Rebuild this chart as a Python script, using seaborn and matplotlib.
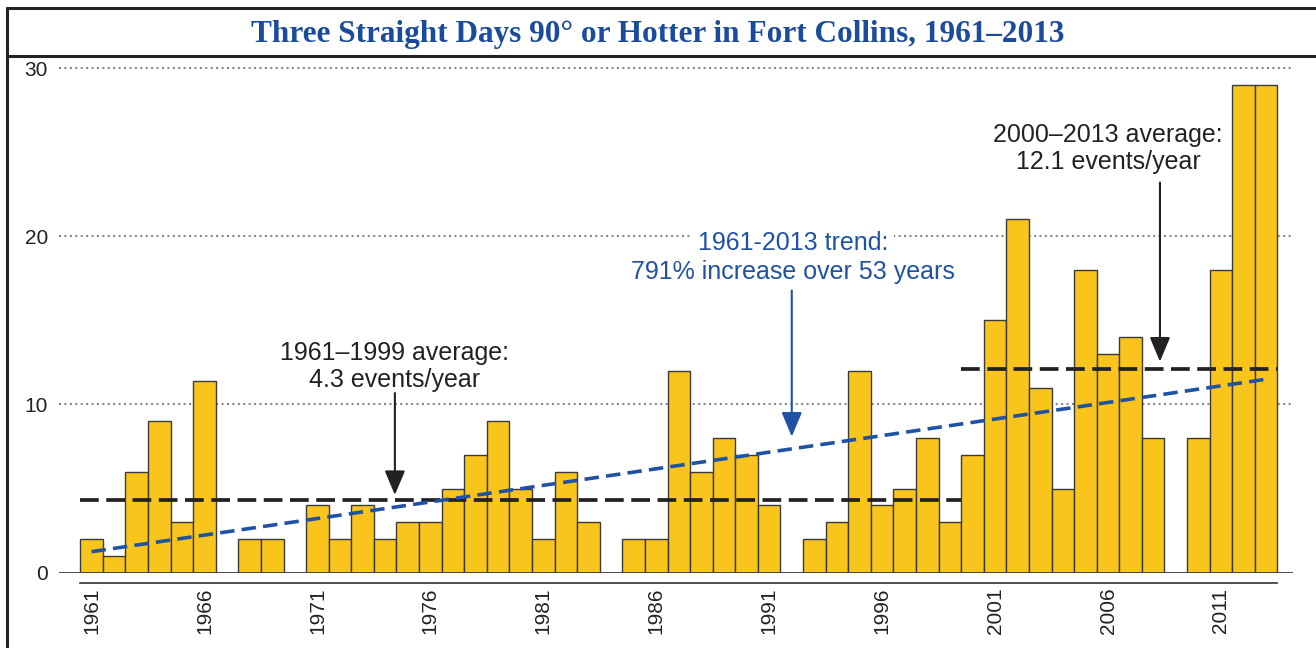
import matplotlib
matplotlib.use("Agg")
import numpy as np
import pandas as pd
import matplotlib.pyplot as plt
import seaborn as sns
from matplotlib.lines import Line2D

# Data
years = list(range(1961, 2014))
events = [2, 1, 6, 9, 3, 11.4, 0, 2, 2, 0,
          4, 2, 4, 2, 3, 3, 5, 7, 9, 5,
          2, 6, 3, 0, 2, 2, 12, 6, 8, 7,
          4, 0, 2, 3, 12, 4, 5, 8, 3, 7,
          15, 21, 11, 5, 18, 13, 14, 8, 0, 8,
          18, 29, 29]
tick_years = [1961, 1966, 1971, 1976, 1981, 1986, 1991, 1996, 2001, 2006, 2011]
avg_early = 4.3
avg_late = 12.1
trend_start = 1.25
trend_end = 11.5

df = pd.DataFrame({"year": years, "events": events})

# Style
sns.set_style("white")
plt.rcParams["font.family"] = ["Liberation Sans", "DejaVu Sans"]

bar_color = "#F9C51C"
blue = "#1F52A3"
dark = "#222222"

fig = plt.figure(figsize=(13.16, 6.48), dpi=100)
ax = fig.add_axes([59 / 1316, (648 - 572.7) / 648, 1234 / 1316, 504.7 / 648])

sns.barplot(
    data=df, x="year", y="events", native_scale=True, width=1,
    color=bar_color, saturation=1, edgecolor="#3a3a3a", linewidth=1,
    errorbar=None, ax=ax, zorder=2
)

ax.set_xlim(1959.56, 2014.19)
ax.set_ylim(0, 30)

# Gridlines
for g in [10, 20, 30]:
    ax.axhline(g, color="#888888", lw=1.5, ls=(0, (1, 1.6)), zorder=1, clip_on=False)
ax.axhline(0, color="#333333", lw=1.2, zorder=3)

# Averages and trend
ax.plot([1960.5, 1999.5], [avg_early, avg_early], color=dark, lw=2.7,
        dashes=(5, 2), zorder=4)
ax.plot([1999.5, 2013.5], [avg_late, avg_late], color=dark, lw=2.7,
        dashes=(5, 2), zorder=4)
ax.plot([1961, 2013], [trend_start, trend_end], color=blue, lw=2.6,
        dashes=(4, 2), zorder=5)

arrow_style = "-|>,head_length=1.0,head_width=0.42"

# Annotations
ax.text(1974.4, 12.28, "1961\u20131999 average:\n4.3 events/year", ha="center",
        va="center", fontsize=18, color=dark, linespacing=1.15, zorder=6)
ax.annotate("", xy=(1974.43, 4.62), xytext=(1974.43, 10.68),
            arrowprops=dict(arrowstyle=arrow_style, color=dark, lw=1.5,
                            mutation_scale=15, shrinkA=0, shrinkB=0), zorder=6)

ax.text(1992.05, 19.59, "1961-2013 trend:", ha="center", va="center",
        fontsize=18, color=blue, zorder=6,
        bbox=dict(facecolor="white", edgecolor="none", pad=4))
ax.text(1992.05, 17.87, "791% increase over 53 years", ha="center", va="center",
        fontsize=18, color=blue, zorder=6)
ax.annotate("", xy=(1992.0, 8.09), xytext=(1992.0, 16.77),
            arrowprops=dict(arrowstyle=arrow_style, color=blue, lw=1.5,
                            mutation_scale=15, shrinkA=0, shrinkB=0), zorder=6)

ax.text(2006.0, 25.19, "2000\u20132013 average:\n12.1 events/year", ha="center",
        va="center", fontsize=18, color=dark, linespacing=1.15, zorder=6)
ax.annotate("", xy=(2008.3, 12.55), xytext=(2008.3, 23.19),
            arrowprops=dict(arrowstyle=arrow_style, color=dark, lw=1.5,
                            mutation_scale=15, shrinkA=0, shrinkB=0), zorder=6)

# Axes styling
for s in ["left", "top", "right"]:
    ax.spines[s].set_visible(False)
ax.spines["bottom"].set_position(("outward", 7.3))
ax.spines["bottom"].set_bounds(1960.5, 2013.5)
ax.spines["bottom"].set_color("#333333")
ax.spines["bottom"].set_linewidth(1.2)

ax.set_xticks(tick_years)
ax.set_xticklabels([str(y) for y in tick_years], rotation=90)
ax.set_yticks([0, 10, 20, 30])
ax.tick_params(axis="x", direction="in", length=4, width=1.2, color="#333333",
               pad=3.5, labelsize=15, labelcolor=dark)
ax.tick_params(axis="y", length=0, pad=8, labelsize=15, labelcolor=dark)
ax.set_xlabel("")
ax.set_ylabel("")

# Title and frame
fig.text(0.5, 1 - 34.5 / 648, "Three Straight Days 90\u00b0 or Hotter in Fort Collins, 1961\u20132013",
         ha="center", va="center", fontsize=22.5, fontweight="bold",
         family=["Liberation Serif", "DejaVu Serif"], color="#1A4B9C")
fig.add_artist(Line2D([6.5 / 1316, 1], [1 - 8 / 648, 1 - 8 / 648], color=dark, lw=2.2))
fig.add_artist(Line2D([6.5 / 1316, 1], [1 - 55.5 / 648, 1 - 55.5 / 648], color=dark, lw=2.2))
fig.add_artist(Line2D([6.5 / 1316, 6.5 / 1316], [0, 1 - 8 / 648], color=dark, lw=2.2))

plt.savefig("out.png", dpi=100)
plt.close()
